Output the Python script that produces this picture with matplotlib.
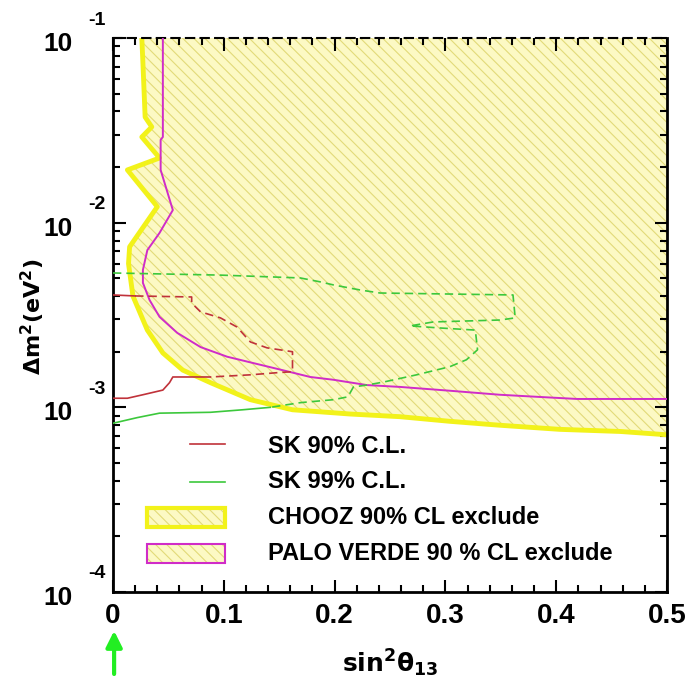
import matplotlib
matplotlib.use("Agg")
import matplotlib.pyplot as plt
import numpy as np
from matplotlib.patches import Rectangle
from matplotlib.ticker import LogLocator, MultipleLocator, NullFormatter

plt.rcParams['font.family'] = ['Liberation Sans', 'DejaVu Sans']
plt.rcParams['font.weight'] = 'bold'
plt.rcParams['hatch.linewidth'] = 0.8

# CHOOZ 90% CL exclusion boundary (sin^2 theta13, dm^2)
chooz_x = [0.026, 0.027, 0.029, 0.035, 0.026, 0.042, 0.013, 0.040, 0.015, 0.014, 0.018,
           0.031, 0.045, 0.063, 0.088, 0.124, 0.162, 0.214, 0.259, 0.304, 0.349, 0.403,
           0.458, 0.500]
chooz_y = [0.1, 0.0733, 0.0373, 0.0330, 0.0291, 0.0224, 0.0193, 0.0122, 0.0074, 0.0060,
           0.0040, 0.00262, 0.00197, 0.00159, 0.00136, 0.00110, 0.00097, 0.00092, 0.00089,
           0.00084, 0.00080, 0.00076, 0.00074, 0.00071]

# Palo Verde 90% CL exclusion boundary
pv_x = [0.045, 0.045, 0.043, 0.043, 0.054, 0.042, 0.031, 0.027, 0.027, 0.033, 0.042, 0.058,
        0.079, 0.103, 0.126, 0.153, 0.178, 0.199, 0.229, 0.259, 0.304, 0.349, 0.383, 0.419,
        0.500]
pv_y = [0.1, 0.0291, 0.0281, 0.0193, 0.0117, 0.0088, 0.0071, 0.00555, 0.00472, 0.00381,
        0.00309, 0.00253, 0.00212, 0.00188, 0.00174, 0.00159, 0.00146, 0.00141, 0.00132,
        0.00129, 0.00123, 0.00117, 0.00114, 0.00111, 0.00111]

# SK 90% C.L. contour
sk90_x = [0, 0.020, 0.071, 0.071, 0.079, 0.097, 0.112, 0.124, 0.139, 0.162, 0.162, 0.148,
          0.124, 0.088, 0.054, 0.051, 0.045, 0.027, 0.013, 0]
sk90_y = [0.00406, 0.00401, 0.00396, 0.00367, 0.00329, 0.00305, 0.00272, 0.00226, 0.00210,
          0.00200, 0.00156, 0.00154, 0.00150, 0.00146, 0.00146, 0.00136, 0.00124, 0.00117,
          0.00112, 0.00112]

# SK 99% C.L. contour
sk99_x = [0, 0.097, 0.169, 0.187, 0.199, 0.223, 0.241, 0.361, 0.363, 0.349, 0.289, 0.268,
          0.295, 0.327, 0.329, 0.319, 0.304, 0.274, 0.244, 0.229, 0.217, 0.212, 0.199, 0.169,
          0.142, 0.117, 0.088, 0.042, 0.022, 0]
sk99_y = [0.00534, 0.00520, 0.00502, 0.00478, 0.00460, 0.00432, 0.00416, 0.00406, 0.00305,
          0.00297, 0.00290, 0.00276, 0.00269, 0.00262, 0.00205, 0.00181, 0.00166, 0.00150,
          0.00137, 0.00132, 0.00129, 0.00114, 0.00110, 0.00106, 0.00100, 0.00097, 0.00094,
          0.00093, 0.00088, 0.00082]

xticks = [0, 0.1, 0.2, 0.3, 0.4, 0.5]
xticklabels = ['0', '0.1', '0.2', '0.3', '0.4', '0.5']
ydecades = [-1, -2, -3, -4]

yellow = '#f2f21a'
fillc = '#fcf9c4'
hatchc = '#e2da78'
magenta = '#d02cc8'
red = '#c0323a'
green = '#3cc83c'

fig = plt.figure(figsize=(6.86, 6.86), dpi=100)
ax = fig.add_axes([113/686, 94/686, 554/686, 554/686])

ax.fill(chooz_x + [0.5], chooz_y + [0.1], facecolor=fillc, edgecolor=hatchc,
        hatch='\\\\\\', lw=0, zorder=1)
ax.plot(chooz_x, chooz_y, color=yellow, lw=3.5, solid_joinstyle='round', zorder=2)
ax.plot(pv_x, pv_y, color=magenta, lw=1.4, zorder=3)

ax.plot(sk90_x[:2], sk90_y[:2], color=red, lw=1.2, zorder=4)
ax.plot(sk90_x[1:14], sk90_y[1:14], color=red, lw=1.2, ls=(0, (5, 3)), zorder=4)
ax.plot(sk90_x[13:], sk90_y[13:], color=red, lw=1.2, zorder=4)
ax.plot(sk99_x[:25], sk99_y[:25], color=green, lw=1.2, ls=(0, (5, 3)), zorder=4)
ax.plot(sk99_x[24:], sk99_y[24:], color=green, lw=1.2, zorder=4)

ax.set_xlim(0, 0.5)
ax.set_yscale('log')
ax.set_ylim(1e-4, 1e-1)

ax.set_xticks(xticks)
ax.set_xticklabels(xticklabels, fontsize=20, fontweight='bold')
ax.xaxis.set_minor_locator(MultipleLocator(0.02))
ax.yaxis.set_major_locator(LogLocator(base=10))
ax.yaxis.set_minor_locator(LogLocator(base=10, subs=np.arange(2, 10)))
ax.yaxis.set_major_formatter(NullFormatter())
ax.yaxis.set_minor_formatter(NullFormatter())
ax.tick_params(which='both', direction='in', top=True, right=True, width=1.5)
ax.tick_params(which='major', length=9)
ax.tick_params(which='minor', length=5)
ax.tick_params(axis='x', pad=8)

for s in ['left', 'right', 'bottom']:
    ax.spines[s].set_linewidth(2)
ax.spines['top'].set_linewidth(1.5)
ax.spines['top'].set_linestyle((0, (4, 3)))

# y tick labels drawn PAW style: "10" with the exponent set apart
for k in ydecades:
    ax.annotate('10', xy=(0, 10.0**k), xycoords=('axes fraction', 'data'),
                xytext=(-55, -6), textcoords='offset pixels', ha='center', va='center',
                fontsize=19, fontweight='bold', annotation_clip=False)
    ax.annotate(str(k), xy=(0, 10.0**k), xycoords=('axes fraction', 'data'),
                xytext=(-16, 18), textcoords='offset pixels', ha='center', va='center',
                fontsize=14, fontweight='bold', annotation_clip=False)

ax.text(-0.144, 0.496, r'$\mathbf{\Delta m^2 (eV^2)}$', transform=ax.transAxes,
        rotation=90, ha='center', va='center', fontsize=16)
ax.text(0.5, -0.128, r'$\mathbf{sin^2\theta_{13}}$', transform=ax.transAxes,
        ha='center', va='center', fontsize=18)

# legend drawn by hand to match the original layout
ax.plot([0.139, 0.202], [0.267, 0.267], color=red, lw=1.2, transform=ax.transAxes)
ax.plot([0.139, 0.202], [0.199, 0.199], color=green, lw=1.2, transform=ax.transAxes)
ax.add_patch(Rectangle((0.061, 0.117), 0.141, 0.035, transform=ax.transAxes,
                       facecolor=fillc, edgecolor=hatchc, hatch='\\\\\\', lw=0))
ax.add_patch(Rectangle((0.061, 0.117), 0.141, 0.035, transform=ax.transAxes,
                       facecolor='none', edgecolor=yellow, lw=3))
ax.add_patch(Rectangle((0.061, 0.052), 0.141, 0.035, transform=ax.transAxes,
                       facecolor=fillc, edgecolor=hatchc, hatch='\\\\\\', lw=0))
ax.add_patch(Rectangle((0.061, 0.052), 0.141, 0.035, transform=ax.transAxes,
                       facecolor='none', edgecolor=magenta, lw=1.5))
labels = ['SK 90% C.L.', 'SK 99% C.L.', 'CHOOZ 90% CL exclude', 'PALO VERDE 90 % CL exclude']
for lab, yy in zip(labels, [0.262, 0.199, 0.134, 0.070]):
    ax.text(0.28, yy, lab, transform=ax.transAxes, ha='left', va='center',
            fontsize=17, fontweight='bold')

# green arrow marking sin^2 theta13 = 0
ax.annotate('', xy=(0.001, -0.065), xytext=(0.001, -0.153),
            xycoords=('data', 'axes fraction'), textcoords=('data', 'axes fraction'),
            arrowprops=dict(arrowstyle='-|>', color='#22ee22', lw=3, mutation_scale=24),
            annotation_clip=False)

fig.savefig('out.png', dpi=100)
